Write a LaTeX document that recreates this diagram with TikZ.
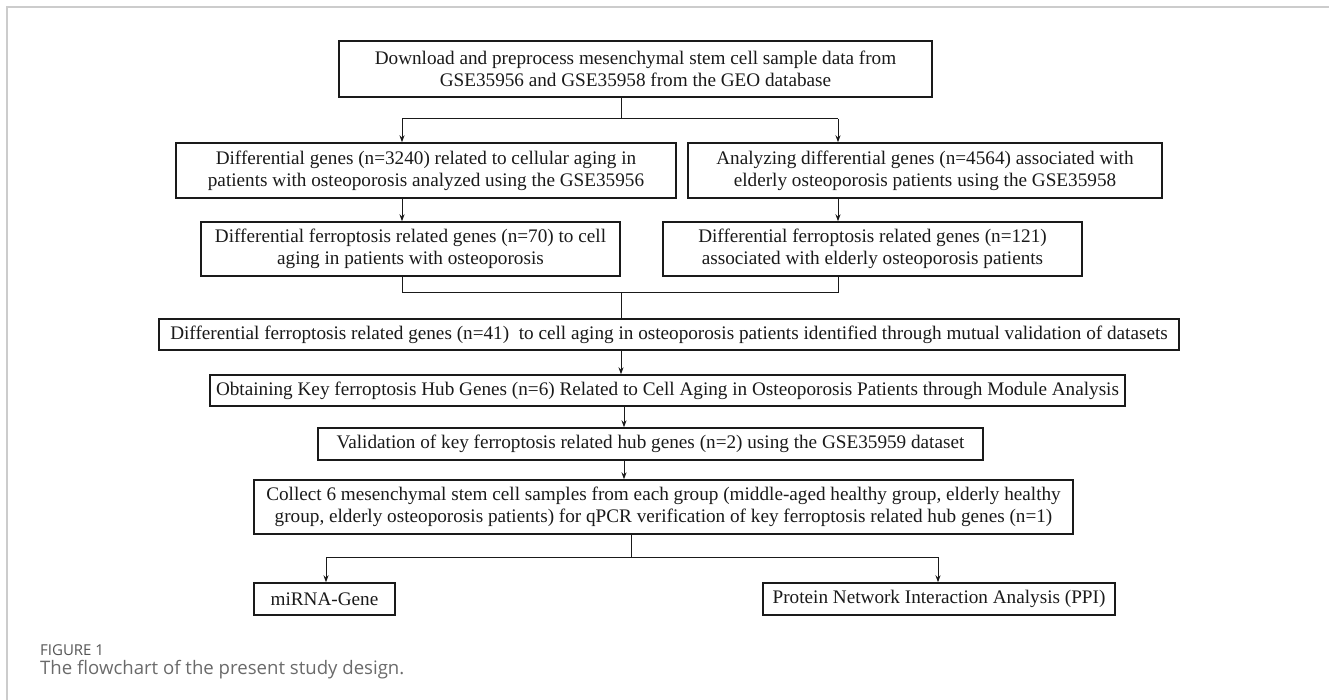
\documentclass[tikz,border=0pt]{standalone}
\usepackage{fontspec}
\setmainfont{Liberation Serif}
\newfontfamily\capfont{Open Sans}
\usetikzlibrary{arrows.meta}
\definecolor{framegray}{HTML}{CCCCCC}
\definecolor{capgray}{HTML}{555555}
\definecolor{captxt}{HTML}{6A6A6A}
\definecolor{ink}{HTML}{1A1A1A}
\tikzset{
  box/.style={draw=ink, line width=1.4pt, fill=white, inner sep=0pt, align=center,
    text=ink, font=\fontsize{19.2}{22}\selectfont},
  conn/.style={draw=ink, line width=1pt},
  arr/.style={conn, -{Stealth[length=7pt,width=5pt]}},
}
\begin{document}
\begin{tikzpicture}[x=1pt,y=-1pt]
\useasboundingbox (0,0) rectangle (1329,700);
% frame
\draw[framegray, line width=1.4pt] (7,700) -- (7,7) -- (1329,7);
% boxes
\node[box, minimum width=593pt, minimum height=56pt] (top) at (635.5,69)
  {Download and preprocess mesenchymal stem cell sample data from\\GSE35956 and GSE35958 from the GEO database};
\node[box, minimum width=500pt, minimum height=55pt] (a1) at (426,170.5)
  {Differential genes (n=3240) related to cellular aging in\\patients with osteoporosis analyzed using the GSE35956};
\node[box, minimum width=474pt, minimum height=55pt] (b1) at (925,170.5)
  {Analyzing differential genes (n=4564) associated with\\elderly osteoporosis patients using the GSE35958};
\node[box, minimum width=419pt, minimum height=54pt] (a2) at (410.5,249)
  {Differential ferroptosis related genes (n=70) to cell\\aging in patients with osteoporosis};
\node[box, minimum width=419pt, minimum height=54pt] (b2) at (872.5,249)
  {Differential ferroptosis related genes (n=121)\\associated with elderly osteoporosis patients};
\node[box, minimum width=1020pt, minimum height=31pt] (c) at (669,334.5)
  {Differential ferroptosis related genes (n=41)\ \ to cell aging in osteoporosis patients identified through mutual validation of datasets};
\node[box, minimum width=915pt, minimum height=31pt] (d) at (667.5,390.5)
  {Obtaining Key ferroptosis Hub Genes (n=6) Related to Cell Aging in Osteoporosis Patients through Module Analysis};
\node[box, minimum width=665pt, minimum height=32pt] (e) at (650.5,444)
  {Validation of key ferroptosis related hub genes (n=2) using the GSE35959 dataset};
\node[box, minimum width=819pt, minimum height=54pt] (f) at (663.5,507)
  {Collect 6 mesenchymal stem cell samples from each group (middle-aged healthy group, elderly healthy\\group, elderly osteoporosis patients) for qPCR verification of key ferroptosis related hub genes (n=1)};
\node[box, minimum width=141pt, minimum height=32pt] (g) at (324.5,599)
  {miRNA-Gene};
\node[box, minimum width=352pt, minimum height=32pt] (h) at (939,599)
  {Protein Network Interaction Analysis (PPI)};
% junction coordinates
\coordinate (j1) at (621,119);
\coordinate (j1l) at (402,119);
\coordinate (j1r) at (838,119);
\coordinate (j2) at (621,293);
\coordinate (j2l) at (402,293);
\coordinate (j2r) at (838,293);
\coordinate (j3) at (631,557);
\coordinate (j3l) at (326,557);
\coordinate (j3r) at (938,557);
\coordinate (x4) at (624,0);
% connectors
\draw[conn] (top.south -| j1) -- (j1);
\draw[conn] (j1l) -- (j1r);
\draw[arr] (j1l) -- (a1.north -| j1l);
\draw[arr] (j1r) -- (b1.north -| j1r);
\draw[arr] (a1.south -| j1l) -- (a2.north -| j1l);
\draw[arr] (b1.south -| j1r) -- (b2.north -| j1r);
\draw[conn] (a2.south -| j2l) -- (j2l) -- (j2r) -- (b2.south -| j2r);
\draw[conn] (j2) -- (c.north -| j2);
\draw[arr] (c.south -| j2) -- (d.north -| j2);
\draw[arr] (d.south -| x4) -- (e.north -| x4);
\draw[arr] (e.south -| x4) -- (f.north -| x4);
\draw[conn] (f.south -| j3) -- (j3);
\draw[conn] (j3l) -- (j3r);
\draw[arr] (j3l) -- (g.north -| j3l);
\draw[arr] (j3r) -- (h.north -| j3r);
% caption
\node[anchor=base west, inner sep=0pt, text=capgray, font=\capfont\fontsize{15}{18}\selectfont] (fig) at (40,655) {FIGURE 1};
\node[anchor=base west, inner sep=0pt, text=captxt, font=\capfont\fontsize{18.6}{22}\selectfont] (cap) at (40,674) {The flowchart of the present study design.};
\end{tikzpicture}
\end{document}
